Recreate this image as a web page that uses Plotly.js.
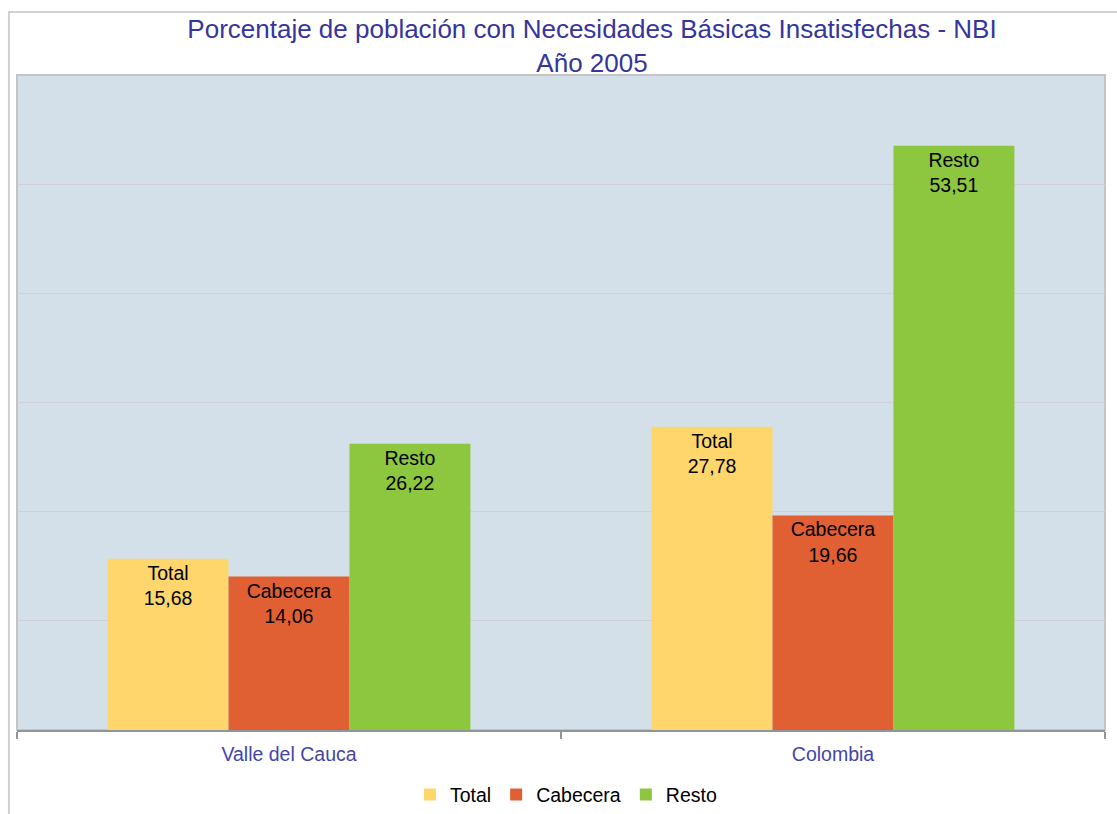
<!DOCTYPE html>
<html>
<head>
<meta charset="utf-8">
<script src="https://cdn.plot.ly/plotly-3.0.1.min.js"></script>
<style>
  html, body { margin: 0; padding: 0; background: #ffffff; }
  #chart { width: 1117px; height: 814px; }
</style>
</head>
<body>
<div id="chart"></div>
<script>
// ---- Data ----
const categories = ["Valle del Cauca", "Colombia"];
const seriesNames = ["Total", "Cabecera", "Resto"];
const totalValues = [15.68, 27.78];
const cabeceraValues = [14.06, 19.66];
const restoValues = [26.22, 53.51];
const titleLines = ["Porcentaje de población con Necesidades Básicas Insatisfechas - NBI", "Año 2005"];

const seriesValues = [totalValues, cabeceraValues, restoValues];
const seriesColors = ["#FED66C", "#E05F33", "#8DC63F"];

const FONT = "Liberation Sans, Arial, sans-serif";

function fmt(v) { return v.toFixed(2).replace(".", ","); }

const traces = seriesNames.map((name, i) => ({
  type: "bar",
  name: name,
  x: categories,
  y: seriesValues[i],
  marker: { color: seriesColors[i], line: { width: 0 } },
  text: seriesValues[i].map(v => name + "<br>" + fmt(v)),
  textposition: "inside",
  insidetextanchor: "end",
  textangle: 0,
  constraintext: "none",
  textfont: { family: FONT, size: 19.5, color: "#000000" },
  hoverinfo: "skip"
}));

const layout = {
  width: 1117,
  height: 814,
  margin: { l: 17, r: 12, t: 75, b: 84, autoexpand: false },
  paper_bgcolor: "#ffffff",
  plot_bgcolor: "#D3E0E9",
  font: { family: FONT, color: "#000000" },
  title: {
    text: titleLines.join("<br>"),
    font: { family: FONT, size: 26, color: "#35359C" },
    x: 0.53, xref: "container", xanchor: "center",
    y: 0.953, yref: "container", yanchor: "middle"
  },
  barmode: "group",
  bargap: 0.333,
  bargroupgap: 0,
  showlegend: true,
  legend: {
    orientation: "h",
    x: 0.505, xanchor: "center",
    y: -0.099, yanchor: "middle",
    font: { family: FONT, size: 19.5, color: "#000000" },
    itemwidth: 30,
    traceorder: "normal",
    bgcolor: "rgba(0,0,0,0)"
  },
  xaxis: {
    type: "category",
    showgrid: false,
    showline: true,
    linecolor: "#8E969B",
    linewidth: 2,
    ticks: "outside",
    tickson: "boundaries",
    ticklen: 7,
    tickcolor: "#8E969B",
    tickwidth: 2,
    ticklabelstandoff: 6,
    tickfont: { family: FONT, size: 19.5, color: "#4545A8" },
    fixedrange: true
  },
  yaxis: {
    range: [0, 60],
    dtick: 10,
    showgrid: true,
    gridcolor: "#CFD0DA",
    gridwidth: 1,
    zeroline: false,
    showticklabels: false,
    ticks: "",
    showline: false,
    fixedrange: true
  },
  shapes: [
    {
      type: "rect", xref: "paper", yref: "paper",
      x0: 0, x1: 1, y0: 0, y1: 1,
      line: { color: "#C4C4C4", width: 2 },
      fillcolor: "rgba(0,0,0,0)",
      layer: "below"
    },
    {
      type: "rect", xref: "paper", yref: "paper",
      x0: -0.0074, x1: 1.03, y0: -0.2, y1: 1.0962,
      line: { color: "#D0D0D0", width: 2 },
      fillcolor: "rgba(0,0,0,0)",
      layer: "below"
    }
  ]
};

Plotly.newPlot("chart", traces, layout, { displayModeBar: false, staticPlot: true });
</script>
</body>
</html>
